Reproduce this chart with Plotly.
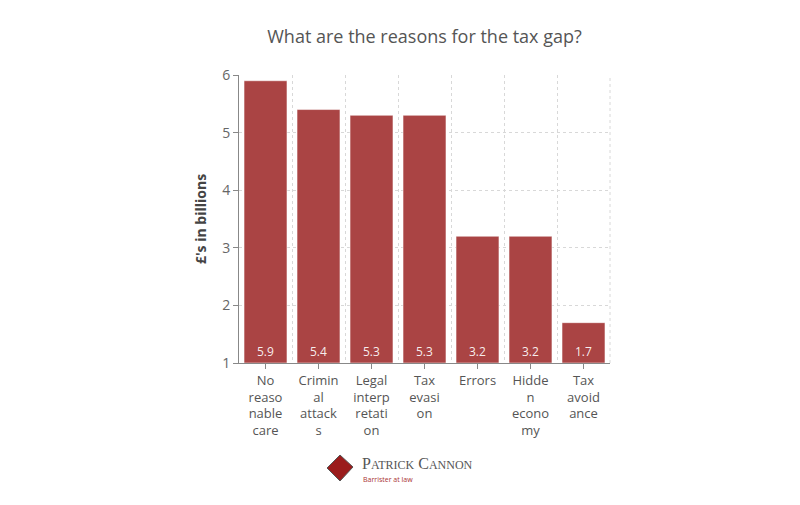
import plotly.graph_objects as go

categories = ["No<br>reaso<br>nable<br>care", "Crimin<br>al<br>attack<br>s", "Legal<br>interp<br>retati<br>on",
              "Tax<br>evasi<br>on", "Errors", "Hidde<br>n<br>econo<br>my", "Tax<br>avoid<br>ance"]
values = [5.9, 5.4, 5.3, 5.3, 3.2, 3.2, 1.7]
value_labels = ["5.9", "5.4", "5.3", "5.3", "3.2", "3.2", "1.7"]
y_ticks = [1, 2, 3, 4, 5, 6]

FONT = "Open Sans, Lato, sans-serif"
BAR = "#aa4444"

# page body has an 8px offset; plot area target: x 239..610, y 75..363
L, R, T, B = 231, 198, 67, 150

fig = go.Figure()
fig.add_trace(go.Bar(
    x=categories, y=[v - 1 for v in values], base=1,
    marker=dict(color=BAR, line=dict(color="rgba(255,255,255,0.5)", width=1)),
    text=value_labels, textposition="inside", insidetextanchor="start",
    textfont=dict(color="rgba(255,255,255,0.92)", size=12, family=FONT),
    hoverinfo="skip", showlegend=False,
))
fig.add_trace(go.Scatter(x=[0], y=[1], xaxis="x2", mode="markers",
                         marker=dict(opacity=0), showlegend=False, hoverinfo="skip"))

fig.update_layout(
    width=800, height=505,
    margin=dict(l=L, r=R, t=T, b=B),
    paper_bgcolor="white", plot_bgcolor="white",
    bargap=0.19,
    title=dict(text="What are the reasons for the tax gap?", xref="container", x=416.5 / 800,
               xanchor="center", yref="container", y=1 - 29 / 505, yanchor="middle",
               font=dict(family=FONT, size=18, color="#555555")),
    font=dict(family=FONT, color="#555555"),
    xaxis=dict(showgrid=False, showline=True, linecolor="#888888", linewidth=1,
               ticks="outside", ticklen=5, tickcolor="#888888",
               tickfont=dict(size=13, color="#555555"), fixedrange=True),
    xaxis2=dict(overlaying="x", range=[-0.5, 6.5], tick0=0.5, dtick=1, showgrid=True,
                gridcolor="#d8d8d8", griddash="dot", showticklabels=False, zeroline=False,
                side="bottom"),
    yaxis=dict(range=[1, 6], tickvals=y_ticks, showgrid=True, gridcolor="#d8d8d8", griddash="dot",
               showline=True, linecolor="#888888", linewidth=1, ticks="outside", ticklen=5,
               tickcolor="#888888", tickfont=dict(size=14, color="#666666"), zeroline=False,
               title=dict(text="<b>£'s in billions</b>", font=dict(size=14, color="#444444"), standoff=12)),
)
fig.add_shape(type="line", xref="paper", yref="paper", x0=1, x1=1, y0=0, y1=1,
              line=dict(color="#d8d8d8", width=1, dash="dot"))

# logo (positions in pixel terms relative to plot area)
W, H = 371, 288
def px(x): return (x - 239) / W
def py(y): return -(y - 363) / H

fig.add_shape(type="path", xref="paper", yref="paper",
              path="M {} {} L {} {} L {} {} L {} {} Z".format(
                  px(327), py(468), px(340), py(455), px(353), py(467), px(340), py(481)),
              fillcolor="#9b1c1c", line=dict(color="#555555", width=1))
fig.add_annotation(xref="paper", yref="paper", x=px(361), y=py(463),
                   xanchor="left", yanchor="middle", showarrow=False, borderpad=0,
                   text="P<span style='font-size:12px'>ATRICK</span> C<span style='font-size:12px'>ANNON</span>",
                   font=dict(family="Liberation Serif, serif", size=16, color="#555555"))
fig.add_annotation(xref="paper", yref="paper", x=px(362), y=py(479),
                   xanchor="left", yanchor="middle", showarrow=False, borderpad=0,
                   text="Barrister at law", font=dict(family=FONT, size=7, color="#aa3333"))

fig.write_html("out.html")
